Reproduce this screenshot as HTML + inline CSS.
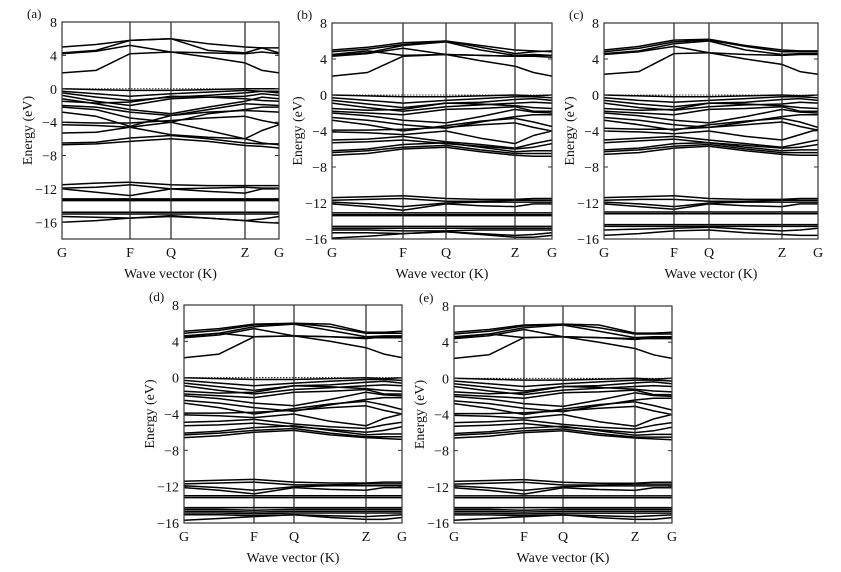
<!DOCTYPE html>
<html><head><meta charset="utf-8">
<style>
html,body{margin:0;padding:0;background:#fff;}
svg{display:block;font-family:"Liberation Serif",serif;}
</style></head>
<body>
<svg id="fig" width="841" height="572" viewBox="0 0 841 572" xmlns="http://www.w3.org/2000/svg"></svg>
<script>
const kLabels = ["G","F","Q","Z","G"];
const yTicks = [8,4,0,-4,-8,-12,-16];

const bandsA = [
[5.0,5.3,5.8,6.0,5.4,5.0,4.9,4.9],
[4.3,4.6,5.8,6.0,4.6,4.3,4.9,4.3],
[4.2,4.5,5.2,4.4,4.3,4.2,4.4,4.2],
[1.9,2.2,4.2,4.4,3.8,3.1,2.2,1.9],
[0,-0.1,-0.2,-0.2,-0.1,0,0,0],
[-0.3,-0.6,-0.9,-0.6,-0.4,-0.2,-0.3,-0.3],
[-0.5,-1.0,-1.4,-1.0,-0.8,-0.5,-0.3,-0.5],
[-0.8,-1.5,-2.0,-1.2,-1.0,-0.9,-0.6,-0.8],
[-1.2,-1.8,-2.5,-3.0,-2.2,-1.5,-1.0,-1.2],
[-1.5,-1.7,-1.6,-0.9,-1.0,-1.2,-1.4,-1.5],
[-2.0,-2.2,-2.8,-3.2,-2.5,-1.8,-1.9,-2.0],
[-2.2,-2.5,-3.5,-4.0,-3.0,-2.5,-2.2,-2.2],
[-2.8,-3.3,-4.5,-3.2,-2.8,-2.6,-2.7,-2.8],
[-4.0,-4.1,-4.1,-3.8,-3.5,-3.3,-3.8,-4.2],
[-4.3,-4.4,-4.6,-4.0,-5.0,-6.0,-5.0,-4.3],
[-5.3,-5.2,-4.6,-5.5,-5.8,-6.0,-6.5,-6.7],
[-6.5,-6.4,-5.9,-5.6,-6.0,-6.5,-6.6,-6.6],
[-6.7,-6.6,-6.3,-6.0,-6.3,-6.8,-6.9,-7.1],
[-11.5,-11.3,-11.2,-11.5,-11.6,-11.6,-11.6,-11.6],
[-11.9,-11.8,-11.5,-12.0,-11.9,-11.8,-11.9,-11.9],
[-12.0,-12.4,-12.8,-12.0,-12.3,-12.5,-12.0,-12.0],
[-13.2,-13.2,-13.2,-13.2,-13.2,-13.2,-13.2,-13.2],
[-13.3,-13.3,-13.3,-13.3,-13.3,-13.3,-13.3,-13.3],
[-13.4,-13.4,-13.4,-13.4,-13.4,-13.4,-13.4,-13.4],
[-14.8,-14.8,-14.8,-14.8,-14.8,-14.8,-14.8,-14.8],
[-15.0,-15.0,-15.0,-15.0,-15.0,-15.0,-15.0,-15.0],
[-15.3,-15.4,-15.5,-15.2,-15.5,-15.8,-15.6,-15.3],
[-16.0,-15.8,-15.5,-15.3,-15.5,-15.8,-16.0,-16.1]
];

const bandsB = [
[5.0,5.3,5.8,6.0,5.3,4.6,4.8,4.9],
[4.8,5.1,5.6,6.0,5.5,5.0,4.9,4.8],
[4.4,4.7,5.5,5.9,5.0,4.4,4.5,4.4],
[4.3,4.6,5.2,4.5,4.4,4.3,4.3,4.2],
[4.5,4.9,4.4,4.5,4.4,4.3,4.4,4.4],
[2.1,2.5,4.3,4.5,3.8,3.2,2.5,2.1],
[0,-0.1,-0.2,-0.2,-0.1,0,-0.1,0],
[-0.3,-0.6,-0.9,-0.6,-0.4,-0.2,-0.2,-0.3],
[-0.6,-1.0,-1.4,-0.9,-0.8,-0.5,-0.4,-0.6],
[-0.9,-1.4,-1.8,-1.3,-1.1,-0.9,-0.8,-0.9],
[-1.5,-1.7,-1.6,-0.9,-1.0,-1.2,-1.4,-1.5],
[-1.8,-2.0,-2.2,-1.6,-1.5,-1.3,-1.8,-1.8],
[-2.0,-2.3,-2.8,-3.1,-2.4,-1.6,-1.9,-2.0],
[-2.5,-2.8,-3.3,-3.7,-3.0,-2.4,-2.2,-2.2],
[-2.8,-3.3,-4.0,-3.4,-2.9,-2.6,-3.0,-3.5],
[-3.9,-3.9,-3.8,-3.6,-3.3,-3.1,-3.6,-4.0],
[-4.1,-4.2,-4.4,-4.0,-4.8,-5.4,-4.5,-4.0],
[-5.0,-4.9,-4.6,-5.2,-5.5,-5.9,-5.4,-5.0],
[-5.3,-5.2,-5.0,-5.4,-5.7,-6.0,-5.8,-5.4],
[-6.2,-6.0,-5.5,-5.3,-5.8,-6.3,-6.2,-6.2],
[-6.4,-6.2,-5.8,-5.6,-6.1,-6.5,-6.5,-6.5],
[-6.7,-6.5,-6.0,-5.8,-6.3,-6.7,-6.8,-6.8],
[-11.4,-11.3,-11.2,-11.5,-11.6,-11.6,-11.5,-11.5],
[-11.7,-11.6,-11.5,-11.8,-11.8,-11.7,-11.7,-11.7],
[-11.9,-12.1,-12.4,-12.0,-11.9,-11.9,-11.9,-11.9],
[-12.1,-12.4,-12.8,-12.1,-12.3,-12.4,-12.1,-12.1],
[-13.1,-13.1,-13.1,-13.1,-13.1,-13.1,-13.1,-13.1],
[-13.3,-13.3,-13.3,-13.3,-13.3,-13.3,-13.3,-13.3],
[-13.4,-13.4,-13.4,-13.4,-13.4,-13.4,-13.4,-13.4],
[-14.6,-14.6,-14.6,-14.6,-14.6,-14.6,-14.6,-14.6],
[-14.8,-14.8,-14.8,-14.8,-14.8,-14.8,-14.8,-14.8],
[-15.0,-15.0,-15.1,-15.1,-15.0,-15.0,-15.0,-15.0],
[-15.3,-15.3,-15.4,-15.2,-15.4,-15.6,-15.5,-15.3],
[-15.9,-15.7,-15.4,-15.2,-15.5,-15.8,-15.8,-15.6]
];

const bandsC = [
[5.0,5.4,6.1,6.2,5.5,5.0,4.9,4.9],
[4.8,5.2,5.9,6.1,5.4,4.8,4.8,4.8],
[4.6,4.9,5.7,6.0,5.0,4.5,4.6,4.6],
[4.5,4.8,5.4,4.7,4.5,4.4,4.5,4.5],
[2.3,2.6,4.6,4.7,4.0,3.4,2.6,2.3],
[0,-0.1,-0.2,-0.2,-0.1,0,-0.1,0],
[-0.3,-0.6,-0.8,-0.6,-0.4,-0.2,-0.2,-0.3],
[-0.6,-1.0,-1.3,-0.9,-0.8,-0.5,-0.4,-0.6],
[-0.9,-1.4,-1.7,-1.3,-1.1,-1.0,-0.8,-0.9],
[-1.5,-1.7,-1.6,-0.9,-1.0,-1.2,-1.4,-1.5],
[-1.8,-2.0,-2.2,-1.6,-1.5,-1.3,-1.8,-1.8],
[-2.0,-2.3,-2.8,-3.1,-2.4,-1.6,-1.9,-2.0],
[-2.5,-2.8,-3.3,-3.6,-3.0,-2.4,-2.2,-2.2],
[-2.8,-3.3,-3.9,-3.3,-2.9,-2.6,-3.0,-3.6],
[-3.7,-3.8,-3.8,-3.6,-3.3,-3.0,-3.5,-3.9],
[-4.0,-4.1,-4.3,-4.0,-4.6,-5.0,-4.4,-3.8],
[-5.0,-4.8,-4.6,-5.0,-5.4,-5.8,-5.4,-5.0],
[-5.3,-5.1,-4.9,-5.3,-5.6,-5.9,-5.8,-5.5],
[-6.1,-5.9,-5.4,-5.3,-5.8,-6.2,-6.1,-6.1],
[-6.3,-6.1,-5.7,-5.5,-6.0,-6.4,-6.4,-6.4],
[-6.6,-6.4,-5.9,-5.7,-6.2,-6.6,-6.7,-6.7],
[-11.4,-11.3,-11.2,-11.5,-11.6,-11.6,-11.5,-11.5],
[-11.7,-11.6,-11.6,-11.8,-11.8,-11.7,-11.7,-11.7],
[-11.9,-12.1,-12.4,-12.0,-11.9,-11.9,-11.9,-11.9],
[-12.1,-12.4,-12.7,-12.1,-12.3,-12.4,-12.1,-12.1],
[-13.0,-13.0,-13.0,-13.0,-13.0,-13.0,-13.0,-13.0],
[-13.2,-13.2,-13.2,-13.2,-13.2,-13.2,-13.2,-13.2],
[-14.4,-14.4,-14.4,-14.4,-14.4,-14.4,-14.4,-14.4],
[-14.6,-14.6,-14.6,-14.6,-14.6,-14.6,-14.6,-14.6],
[-15.0,-14.9,-14.8,-14.7,-14.9,-15.1,-15.0,-14.8],
[-15.6,-15.4,-15.1,-15.0,-15.3,-15.5,-15.6,-15.6]
];

const bandsD = [
[5.1,5.4,5.9,6.0,5.9,5.0,5.0,5.1],
[4.9,5.2,5.8,6.0,5.6,4.9,4.9,4.9],
[4.6,4.9,5.6,5.9,5.2,4.5,4.6,4.6],
[4.4,4.7,5.4,4.6,4.5,4.4,4.4,4.4],
[4.5,4.9,4.5,4.6,4.5,4.3,4.5,4.5],
[2.2,2.6,4.5,4.6,4.0,3.3,2.6,2.2],
[0,-0.1,-0.2,-0.2,-0.1,0,-0.1,0],
[-0.3,-0.6,-0.9,-0.6,-0.4,-0.2,-0.2,-0.3],
[-0.6,-1.0,-1.4,-0.9,-0.8,-0.5,-0.4,-0.6],
[-0.9,-1.4,-1.8,-1.3,-1.1,-0.9,-0.8,-0.9],
[-1.5,-1.7,-1.6,-0.9,-1.0,-1.2,-1.4,-1.5],
[-1.8,-2.0,-2.2,-1.6,-1.5,-1.3,-1.8,-1.8],
[-2.0,-2.3,-2.8,-3.1,-2.4,-1.6,-1.9,-2.0],
[-2.5,-2.8,-3.3,-3.7,-3.0,-2.4,-2.2,-2.2],
[-2.8,-3.3,-4.0,-3.4,-2.9,-2.6,-3.0,-3.5],
[-3.9,-3.9,-3.8,-3.6,-3.3,-3.1,-3.6,-4.0],
[-4.1,-4.2,-4.4,-4.0,-4.8,-5.3,-4.5,-4.0],
[-4.9,-4.8,-4.6,-5.1,-5.4,-5.6,-5.2,-4.9],
[-5.3,-5.2,-5.0,-5.4,-5.7,-6.0,-5.8,-5.4],
[-6.1,-5.9,-5.5,-5.3,-5.8,-6.3,-6.2,-6.2],
[-6.3,-6.1,-5.8,-5.6,-6.1,-6.5,-6.5,-6.5],
[-6.6,-6.4,-6.0,-5.8,-6.3,-6.6,-6.7,-6.8],
[-11.4,-11.3,-11.2,-11.5,-11.6,-11.6,-11.5,-11.5],
[-11.7,-11.6,-11.5,-11.8,-11.8,-11.7,-11.7,-11.7],
[-11.9,-12.1,-12.4,-12.0,-11.9,-11.9,-11.9,-11.9],
[-12.1,-12.4,-12.8,-12.1,-12.3,-12.4,-12.1,-12.1],
[-13.0,-13.0,-13.0,-13.0,-13.0,-13.0,-13.0,-13.0],
[-13.2,-13.2,-13.2,-13.2,-13.2,-13.2,-13.2,-13.2],
[-14.3,-14.3,-14.3,-14.3,-14.3,-14.3,-14.3,-14.3],
[-14.5,-14.5,-14.6,-14.5,-14.5,-14.5,-14.5,-14.5],
[-14.7,-14.7,-14.8,-14.7,-14.7,-14.7,-14.7,-14.7],
[-14.9,-14.9,-15.0,-14.9,-14.9,-14.9,-14.9,-14.9],
[-15.1,-15.1,-15.2,-15.1,-15.2,-15.3,-15.2,-15.1],
[-15.7,-15.5,-15.3,-15.1,-15.4,-15.6,-15.6,-15.4]
];

const bandsE = [
[5.1,5.4,5.9,6.0,5.9,5.0,5.0,5.1],
[4.9,5.2,5.8,6.0,5.6,4.9,4.9,4.9],
[4.6,4.9,5.6,5.9,5.2,4.5,4.6,4.6],
[4.4,4.7,5.4,4.6,4.5,4.4,4.4,4.4],
[4.5,4.9,4.5,4.6,4.5,4.3,4.5,4.5],
[2.2,2.6,4.5,4.6,4.0,3.3,2.6,2.2],
[0,-0.1,-0.2,-0.2,-0.1,0,-0.1,0],
[-0.3,-0.6,-0.9,-0.6,-0.4,-0.2,-0.2,-0.3],
[-0.6,-1.0,-1.4,-0.9,-0.8,-0.5,-0.4,-0.6],
[-0.9,-1.4,-1.8,-1.3,-1.1,-0.9,-0.8,-0.9],
[-1.5,-1.7,-1.6,-0.9,-1.0,-1.2,-1.4,-1.5],
[-1.8,-2.0,-2.2,-1.6,-1.5,-1.3,-1.8,-1.8],
[-2.0,-2.3,-2.8,-3.1,-2.4,-1.6,-1.9,-2.0],
[-2.5,-2.8,-3.3,-3.7,-3.0,-2.4,-2.2,-2.2],
[-2.8,-3.3,-4.0,-3.4,-2.9,-2.6,-3.0,-3.5],
[-3.9,-3.9,-3.8,-3.6,-3.3,-3.1,-3.6,-4.0],
[-4.1,-4.2,-4.4,-4.0,-4.8,-5.3,-4.5,-4.0],
[-4.9,-4.8,-4.6,-5.1,-5.4,-5.6,-5.2,-4.9],
[-5.3,-5.2,-5.0,-5.4,-5.7,-6.0,-5.8,-5.4],
[-6.1,-5.9,-5.5,-5.3,-5.8,-6.3,-6.2,-6.2],
[-6.3,-6.1,-5.8,-5.6,-6.1,-6.5,-6.5,-6.5],
[-6.6,-6.4,-6.0,-5.8,-6.3,-6.6,-6.7,-6.8],
[-11.4,-11.3,-11.2,-11.5,-11.6,-11.6,-11.5,-11.5],
[-11.7,-11.6,-11.5,-11.8,-11.8,-11.7,-11.7,-11.7],
[-11.9,-12.1,-12.4,-12.0,-11.9,-11.9,-11.9,-11.9],
[-12.1,-12.4,-12.8,-12.1,-12.3,-12.4,-12.1,-12.1],
[-13.0,-13.0,-13.0,-13.0,-13.0,-13.0,-13.0,-13.0],
[-13.2,-13.2,-13.2,-13.2,-13.2,-13.2,-13.2,-13.2],
[-14.3,-14.3,-14.3,-14.3,-14.3,-14.3,-14.3,-14.3],
[-14.5,-14.5,-14.6,-14.5,-14.5,-14.5,-14.5,-14.5],
[-14.7,-14.7,-14.8,-14.7,-14.7,-14.7,-14.7,-14.7],
[-14.9,-14.9,-15.0,-14.9,-14.9,-14.9,-14.9,-14.9],
[-15.1,-15.1,-15.2,-15.1,-15.2,-15.3,-15.2,-15.1],
[-15.7,-15.5,-15.3,-15.1,-15.4,-15.6,-15.6,-15.4]
];

const panelLetters = ["(a)","(b)","(c)","(d)","(e)"];
const panelBands = [bandsA,bandsB,bandsC,bandsD,bandsE];
const panelMin = [-18,-16,-16,-16,-16];
const layout = [
 {x0:62,x1:279,y0:22,y1:239,F:130,Q:171,Z:245},
 {x0:332,x1:552,y0:23,y1:239,F:403,Q:446,Z:515},
 {x0:604,x1:818,y0:23,y1:239,F:674,Q:709,Z:782},
 {x0:184,x1:402,y0:305,y1:523,F:254,Q:294,Z:366},
 {x0:454,x1:672,y0:306,y1:523,F:524,Q:563,Z:635}
];
const NS="http://www.w3.org/2000/svg";
const svg=document.getElementById('fig');
function mk(tag,attrs,parent){const e=document.createElementNS(NS,tag);for(const k in attrs)e.setAttribute(k,attrs[k]);(parent||svg).appendChild(e);return e;}

panelBands.forEach((bands,pi)=>{
  const L=layout[pi], eMax=8, eMin=panelMin[pi];
  const yS=e=>L.y0+(eMax-e)/(eMax-eMin)*(L.y1-L.y0);
  const kNodes=[L.x0,(L.x0+L.F)/2,L.F,L.Q,(L.Q+L.Z)/2,L.Z,(L.Z+L.x1)/2,L.x1];
  const g=mk('g',{});
  
  
  const clip=mk('clipPath',{id:'clip'+pi},g);
  mk('rect',{x:L.x0,y:L.y0,width:L.x1-L.x0,height:L.y1-L.y0},clip);
  const bg=mk('g',{'clip-path':'url(#clip'+pi+')'},g);
  
  
  const fl=mk('line',{x1:L.x0,x2:L.x1,y1:yS(0),y2:yS(0),stroke:'#000','stroke-width':0.8,'stroke-dasharray':'1.5,1.5'},bg);
  
  
  bands.forEach((b,bi)=>{
    const pts=b.map((e,i)=>kNodes[i].toFixed(1)+','+yS(e).toFixed(1)).join(' ');
    const p=mk('polyline',{points:pts,fill:'none',stroke:'#000','stroke-width':1.5,'stroke-linejoin':'round'},bg);
    
    
  });
  [L.F,L.Q,L.Z].forEach(x=>{
    const v=mk('line',{x1:x,x2:x,y1:L.y0,y2:L.y1,stroke:'#222','stroke-width':1.2},g);
    
    
  });
  const fr=mk('rect',{x:L.x0,y:L.y0,width:L.x1-L.x0,height:L.y1-L.y0,fill:'none',stroke:'#333','stroke-width':1.2},g);
  
  
  yTicks.forEach(t=>{
    const y=yS(t);
    mk('line',{x1:L.x0,x2:L.x0+4,y1:y,y2:y,stroke:'#333','stroke-width':1},g);
    mk('line',{x1:L.x1-4,x2:L.x1,y1:y,y2:y,stroke:'#333','stroke-width':1},g);
    const tx=mk('text',{x:L.x0-5,y:y+5,'text-anchor':'end','font-size':14,fill:'#111'},g);
    tx.textContent=(t<0?'\u2212'+(-t):String(t));
    
    
  });
  const kx=[L.x0,L.F,L.Q,L.Z,L.x1];
  kLabels.forEach((lab,i)=>{
    const tx=mk('text',{x:kx[i],y:L.y1+18,'text-anchor':'middle','font-size':14,fill:'#111'},g);
    tx.textContent=lab;
    
    
  });
  const xt=mk('text',{x:(L.x0+L.x1)/2,y:L.y1+39,'text-anchor':'middle','font-size':14,fill:'#111'},g);
  xt.textContent='Wave vector (K)';
  
  
  const cy=(L.y0+L.y1)/2, cx=L.x0-30;
  const yt=mk('text',{x:cx,y:cy,'text-anchor':'middle','font-size':14,fill:'#111',transform:'rotate(-90 '+cx+' '+cy+')'},g);
  yt.textContent='Energy (eV)';
  
  
  const pl=mk('text',{x:L.x0-35,y:L.y0-4,'font-size':13,fill:'#111'},g);
  pl.textContent=panelLetters[pi];
  
  
});
</script>
</body></html>
